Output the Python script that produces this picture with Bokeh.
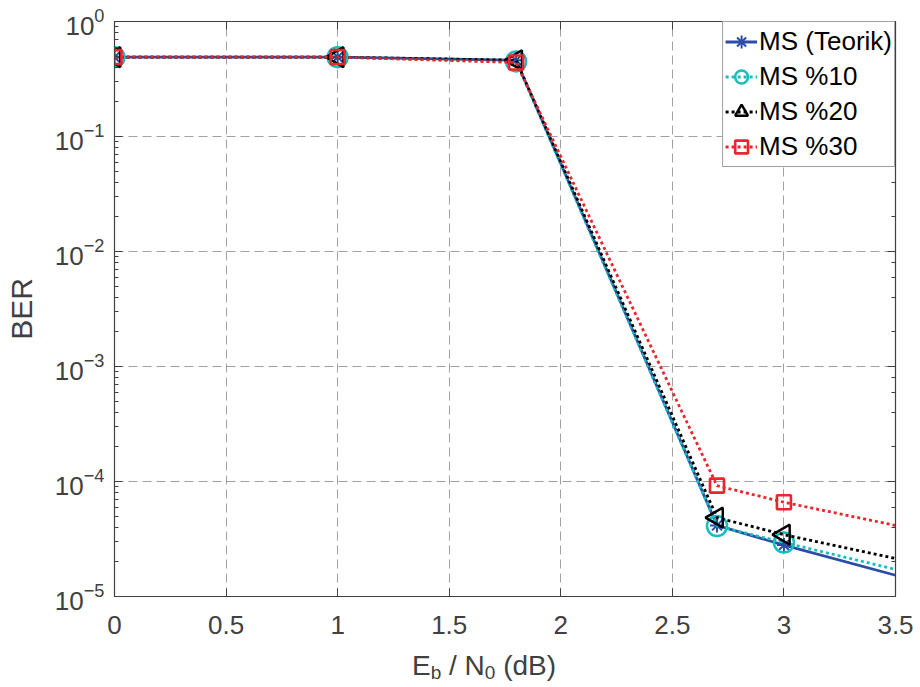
from bokeh.plotting import figure
from bokeh.models import (LogAxis, LinearAxis, FixedTicker, LogTicker, Div,
                          Legend, LegendItem, Range1d, CustomJSTickFormatter)
from bokeh.layouts import column
from bokeh.embed import file_html
from bokeh.resources import INLINE
import math

# ---------------- data ----------------
ebn0 = [0, 1, 1.8, 2.7, 3, 3.5]
ber_teorik = [0.49, 0.49, 0.46, 4.15e-5, 2.8e-5, 1.53e-5]
ber_10 = [0.49, 0.49, 0.45, 4.1e-5, 2.95e-5, 1.72e-5]
ber_20 = [0.49, 0.49, 0.46, 4.85e-5, 3.45e-5, 2.14e-5]
ber_30 = [0.49, 0.49, 0.44, 9.2e-5, 6.6e-5, 4.15e-5]
n_marked = 5  # markers drawn on the first five points
x_ticks = [0, 0.5, 1, 1.5, 2, 2.5, 3, 3.5]
x_tick_labels = ["0", "0.5", "1", "1.5", "2", "2.5", "3", "3.5"]
series_names = ["MS (Teorik)", "MS %10", "MS %20", "MS %30"]

FONT = "Liberation Sans"
TXT = "#404040"

p = figure(width=920, height=641, output_backend="svg", toolbar_location=None,
           y_axis_type="log", x_range=Range1d(0, 3.5), y_range=Range1d(1e-5, 1),
           min_border_left=114, min_border_right=25, min_border_top=21,
           min_border_bottom=45)
p.outline_line_color = TXT
p.outline_line_width = 1.2
p.background_fill_color = "white"
p.border_fill_color = "white"

# axes
xa = p.xaxis[0]
xa.ticker = FixedTicker(ticks=x_ticks)
xa.major_label_overrides = {t: l for t, l in zip(x_ticks, x_tick_labels)}
ya = p.yaxis[0]
for ax in (xa, ya):
    ax.major_label_text_font = FONT
    ax.major_label_text_font_size = "26px"
    ax.major_label_text_color = TXT
    ax.axis_line_color = TXT
    ax.major_tick_line_color = TXT
    ax.minor_tick_line_color = TXT
    ax.major_tick_in = 8
    ax.major_tick_out = 0
    ax.minor_tick_in = 4
    ax.minor_tick_out = 0
xa.major_label_standoff = 19
ya.major_label_standoff = 10
ya.axis_label = "BER"
ya.axis_label_text_font = FONT
ya.axis_label_text_font_size = "30px"
ya.axis_label_text_font_style = "normal"
ya.axis_label_text_color = TXT
ya.axis_label_standoff = 14

# mirrored axes (box ticks), no labels
ra = LogAxis(ticker=LogTicker(), formatter=CustomJSTickFormatter(code="return ''"),
             axis_line_color=TXT, major_tick_line_color=TXT, minor_tick_line_color=TXT,
             major_tick_in=8, major_tick_out=0, minor_tick_in=4, minor_tick_out=0,
             major_label_standoff=0)
ta = LinearAxis(ticker=FixedTicker(ticks=x_ticks), formatter=CustomJSTickFormatter(code="return ''"),
                axis_line_color=TXT, major_tick_line_color=TXT,
                major_tick_in=8, major_tick_out=0, minor_tick_in=0, minor_tick_out=0,
                major_label_standoff=0)
p.add_layout(ra, "right")
p.add_layout(ta, "above")

# grid
for g in (p.xgrid[0], p.ygrid[0]):
    g.grid_line_color = "#8a8a8a"
    g.grid_line_dash = "9 5"
    g.grid_line_width = 1
    g.grid_line_alpha = 0.8

# series
BLUE = "#2C4DA6"
CYAN = "#19BDBD"
RED = "#E8262B"
items = []

l0 = p.line(ebn0, ber_teorik, line_color=BLUE, line_width=2.8)
m0 = p.scatter(ebn0[:n_marked], ber_teorik[:n_marked], marker="asterisk", size=14,
               line_color=BLUE, line_width=2)
items.append(LegendItem(label=series_names[0], renderers=[l0, m0]))

l1 = p.line(ebn0, ber_10, line_color=CYAN, line_width=2.8, line_dash="3 3")
m1 = p.scatter(ebn0[:n_marked], ber_10[:n_marked], marker="circle", size=20,
               line_color=CYAN, line_width=2.5, fill_color=None)
items.append(LegendItem(label=series_names[1], renderers=[l1, m1]))

l2 = p.line(ebn0, ber_20, line_color="black", line_width=2.8, line_dash="3 3")
m2 = p.scatter(ebn0[:n_marked], ber_20[:n_marked], marker="triangle", size=20,
               angle=math.pi / 2, line_color="black", line_width=2.4, fill_color=None)
items.append(LegendItem(label=series_names[2], renderers=[l2, m2]))

l3 = p.line(ebn0, ber_30, line_color=RED, line_width=2.8, line_dash="3 3")
m3 = p.scatter(ebn0[:n_marked], ber_30[:n_marked], marker="square", size=14,
               line_color=RED, line_width=2.6, fill_color=None)
items.append(LegendItem(label=series_names[3], renderers=[l3, m3]))

legend = Legend(items=items, location="top_right", margin=0, padding=2, spacing=0,
                label_text_font=FONT, label_text_font_size="26px",
                label_text_color="black", label_height=35, glyph_height=35,
                glyph_width=32, label_standoff=2,
                border_line_color=TXT, border_line_width=1,
                background_fill_color="white", background_fill_alpha=1)
p.add_layout(legend)

# x axis label with subscripts, as real HTML text
xlabel = Div(text='E<sub style="font-size:19px;vertical-align:-4px">b</sub> / '
                  'N<sub style="font-size:19px;vertical-align:-4px">0</sub> (dB)',
             width=920, height=46, margin=0,
             styles={"font-family": FONT, "font-size": "28px", "color": TXT,
                     "padding-left": "412px", "padding-top": "10px",
                     "line-height": "30px", "box-sizing": "border-box"})

open("out.html", "w").write(file_html(column(p, xlabel, spacing=0), INLINE))
